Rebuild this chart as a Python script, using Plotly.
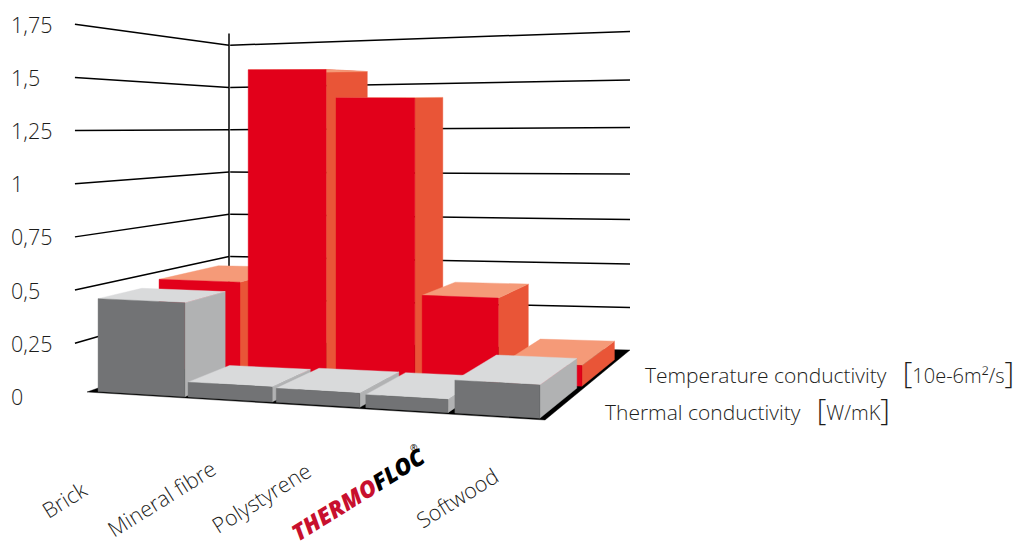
import plotly.graph_objects as go

# ---- data ----
categories = ["Brick", "Mineral fibre", "Polystyrene", "THERMOFLOC", "Softwood"]
thermal_conductivity = [0.445, 0.07, 0.065, 0.06, 0.15]      # W/mK (grey, front row)
temperature_conductivity = [0.465, 1.567, 1.424, 0.43, 0.105]  # 10e-6 m2/s (red, back row)
tick_values = [0, 0.25, 0.5, 0.75, 1, 1.25, 1.5, 1.75]
tick_labels = ["0", "0,25", "0,5", "0,75", "1", "1,25", "1,5", "1,75"]
series_labels = ["Thermal conductivity", "Temperature conductivity"]
series_units = ["W/mK", "10e-6m²/s"]

# ---- drawing geometry of the pseudo-3D scene ----
FL, FR, BR, BL = (87, 392), (545, 420), (630, 350), (229, 341)  # floor corners
S_FL, S_FR, S_BL = 209.2, 223, 169                              # px per value unit
GREY_LEFT = [0.018, 0.215, 0.408, 0.604, 0.799]
GREY_RIGHT = [0.208, 0.399, 0.591, 0.784, 0.985]
RED_LEFT = [0.009, 0.216, 0.420, 0.620, 0.810]
RED_RIGHT = [0.197, 0.397, 0.603, 0.797, 0.991]
GREY_FRONT = 0.02
GREY_BACK = [0.33, 0.34, 0.38, 0.39, 0.45]
RED_FRONT = 0.48
RED_BACK = [0.90, 0.825, 0.74, 0.79, 0.86]

INK = "#000000"
TEXT = "#1d1d1b"
GREY = dict(front="#727375", side="#b1b2b3", top="#d9dadb")
RED = dict(front="#e2001a", side="#e95537", top="#f59a78")
FONT = "Open Sans"


def project(x, d, z=0.0):
    """Scene position (x across, d in depth, z value) -> plot position."""
    s_br = 168 + 8 * z
    bl = lambda a, b, c, e: (1 - x) * (1 - d) * a + x * (1 - d) * b + x * d * c + (1 - x) * d * e
    u = bl(FL[0], FR[0], BR[0], BL[0])
    v = bl(FL[1], FR[1], BR[1], BL[1])
    s = bl(S_FL, S_FR, s_br, S_BL)
    return u, v - z * s


fig = go.Figure()


def polygon(points, colour, name):
    pts = list(points) + [points[0]]
    fig.add_trace(go.Scatter(
        x=[p[0] for p in pts], y=[p[1] for p in pts], mode="lines", fill="toself",
        fillcolor=colour, line=dict(color=colour, width=0.4), name=name,
        hoverinfo="name", showlegend=False))


def polyline(points, name, width=1.5):
    fig.add_trace(go.Scatter(
        x=[p[0] for p in points], y=[p[1] for p in points], mode="lines",
        line=dict(color=INK, width=width), name=name, hoverinfo="skip", showlegend=False))


def bar(x0, x1, d0, d1, z, colours, name):
    polygon([project(x1, d0), project(x1, d1), project(x1, d1, z), project(x1, d0, z)],
            colours["side"], name)
    polygon([project(x0, d0, z), project(x1, d0, z), project(x1, d1, z), project(x0, d1, z)],
            colours["top"], name)
    polygon([project(x0, d0), project(x1, d0), project(x1, d0, z), project(x0, d0, z)],
            colours["front"], name)


# wall grid lines
for t in tick_values[1:]:
    polyline([project(0, -0.085, t), project(0, 1, t)], f"grid {t}")
    polyline([project(0.003, 1, t), project(1, 1, t)], f"grid {t}")
polyline([project(0, 1, 0), project(0, 1, 1.82)], "axis")

polygon([FL, FR, BR, BL], "#000000", "floor")

for i, c in enumerate(categories):
    bar(RED_LEFT[i], RED_RIGHT[i], RED_FRONT, RED_BACK[i], temperature_conductivity[i], RED,
        f"{c}: {series_labels[1]}")
for i, c in enumerate(categories):
    bar(GREY_LEFT[i], GREY_RIGHT[i], GREY_FRONT, GREY_BACK[i], thermal_conductivity[i], GREY,
        f"{c}: {series_labels[0]}")


def note(text, x, y, size=21.5, angle=0, anchor="center", color=TEXT, **font):
    fig.add_annotation(text=text, x=x, y=y, xref="x", yref="y", showarrow=False,
                       xanchor=anchor, yanchor="middle", textangle=angle,
                       font=dict(family=FONT, size=size, color=color, **font))


for value, label in zip(tick_values, tick_labels):
    note(label, 9, project(0, -0.085, value)[1], anchor="left", weight=300)

LABEL_CENTRES = [(64, 499), (161, 498), (261, 497), (358, 494), (457, 497)]
for c, (x, y) in zip(categories, LABEL_CENTRES):
    if c == "THERMOFLOC":
        note('<span style="color:#c8102e">THERMO</span>FLOC', x, y, size=23, angle=-32,
             color="#000000", weight=800, style="italic")
        note("®", 414, 447, size=9, color="#000000")
    else:
        note(c, x, y, angle=-32, weight=300)

BR_SPAN = '<span style="font-size:30px">{}</span>'
UNIT_SPAN = '<span style="font-size:20px">{}</span>'
for label, unit, x, y in zip(series_labels, series_units, (603, 643), (408, 371)):
    note(f"{label}\u00a0\u00a0\u00a0{BR_SPAN.format('[')}{UNIT_SPAN.format(unit)}{BR_SPAN.format(']')}",
         x, y, size=21, anchor="left", weight=300)

fig.update_xaxes(range=[0, 1030], visible=False, fixedrange=True)
fig.update_yaxes(range=[542, 0], visible=False, fixedrange=True)
fig.update_layout(width=1030, height=542, margin=dict(l=0, r=0, t=0, b=0),
                  paper_bgcolor="white", plot_bgcolor="white", showlegend=False)
fig.write_html("out.html", config=dict(displayModeBar=False),
               post_script="document.body.style.margin='0';")
